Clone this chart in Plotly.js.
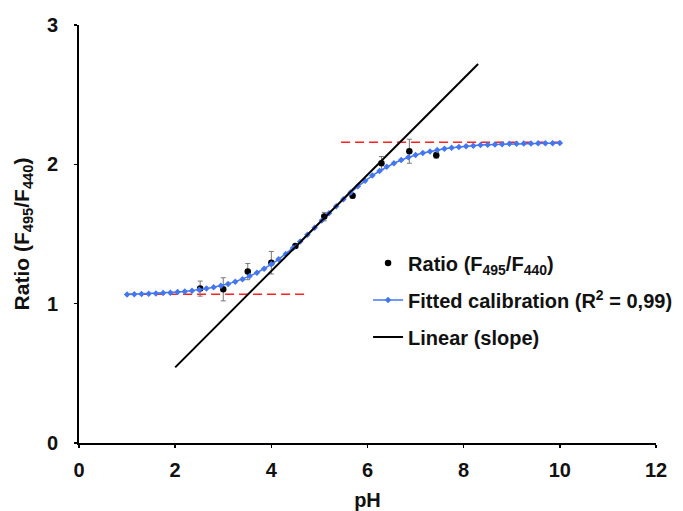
<!DOCTYPE html>
<html>
<head>
<meta charset="utf-8">
<script src="https://cdn.plot.ly/plotly-3.0.1.min.js"></script>
<style>html,body{margin:0;padding:0;background:#fff;}#chart{width:683px;height:511px;}</style>
</head>
<body>
<div id="chart"></div>
<script>
// Measured points
const phData = [2.52, 3.0, 3.51, 4.0, 4.5, 5.1, 5.69, 6.29, 6.87, 7.43];
const ratioData = [1.108, 1.103, 1.230, 1.294, 1.414, 1.625, 1.775, 2.008, 2.094, 2.065];
const ratioErr = [0.054, 0.083, 0.058, 0.081, 0.012, 0.030, 0.016, 0.048, 0.086, 0.020];

// Fitted calibration curve
const phFit = [1.00,1.15,1.30,1.45,1.60,1.75,1.90,2.05,2.20,2.35,2.50,2.65,2.80,2.95,3.10,3.25,3.40,3.55,3.70,3.85,
  4.00,4.15,4.30,4.45,4.60,4.75,4.90,5.05,5.20,5.35,5.50,5.65,5.80,5.95,6.10,6.25,6.40,6.55,6.70,6.85,
  7.00,7.15,7.30,7.45,7.60,7.75,7.90,8.05,8.20,8.35,8.50,8.65,8.80,8.95,9.10,9.25,9.40,9.55,9.70,9.85,10.00];
const ratioFit = [1.066,1.068,1.069,1.071,1.073,1.076,1.079,1.083,1.088,1.093,1.100,1.108,1.118,1.129,1.142,1.158,1.176,1.198,1.222,1.250,
  1.282,1.318,1.357,1.400,1.446,1.495,1.545,1.597,1.649,1.700,1.750,1.797,1.842,1.882,1.919,1.952,1.982,2.008,2.031,2.050,
  2.067,2.081,2.093,2.103,2.112,2.119,2.125,2.130,2.134,2.138,2.141,2.143,2.145,2.147,2.148,2.150,2.150,2.151,2.152,2.152,2.153];

// Linear (slope) line
const phLin = [2.0, 8.3];
const ratioLin = [0.543, 2.72];

// Plateau reference lines
const phLow = [1.0, 4.73];
const ratioLow = [1.067, 1.067];
const phHigh = [5.45, 10.0];
const ratioHigh = [2.158, 2.158];

const fam = 'Liberation Sans, Arial, sans-serif';
const font = {family: fam, size: 20, color: '#111'};

const traces = [
  {x: phLow, y: ratioLow, mode: 'lines', line: {color: '#ff2020', width: 1.5, dash: '9px,5px'}, showlegend: false, hoverinfo: 'skip'},
  {x: phHigh, y: ratioHigh, mode: 'lines', line: {color: '#ff2020', width: 1.5, dash: '9px,5px'}, showlegend: false, hoverinfo: 'skip'},
  {x: phData, y: ratioData, mode: 'markers', name: '<b>Ratio (F<sub>495</sub>/F<sub>440</sub>)</b>', legendgroup: 'a',
   marker: {color: '#000', size: 6.5},
   error_y: {type: 'data', array: ratioErr, visible: true, color: '#777', thickness: 1, width: 2.5}},
  {x: phFit, y: ratioFit, mode: 'lines+markers', name: '<b>Fitted calibration (R<sup>2</sup> = 0,99)</b>', legendgroup: 'b',
   line: {color: '#4377f2', width: 1.5}, marker: {symbol: 'diamond', size: 5, color: '#4377f2'}},
  {x: phLin, y: ratioLin, mode: 'lines', name: '<b>Linear (slope)</b>', legendgroup: 'c',
   line: {color: '#000', width: 2}}
];

const layout = {
  width: 683, height: 511,
  margin: {l: 79, r: 27, t: 25, b: 68, autoexpand: false},
  paper_bgcolor: '#fff', plot_bgcolor: '#fff',
  font: font,
  showlegend: true,
  legend: {x: 0.501, y: 0.477, xanchor: 'left', yanchor: 'top', bgcolor: 'rgba(0,0,0,0)',
    font: {family: fam, size: 20, color: '#111'},
    traceorder: 'grouped', tracegroupgap: 8},
  xaxis: {
    range: [0, 12], tickvals: [0, 2, 4, 6, 8, 10, 12], ticktext: ['<b>0</b>','<b>2</b>','<b>4</b>','<b>6</b>','<b>8</b>','<b>10</b>','<b>12</b>'],
    showline: true, linecolor: '#000', linewidth: 2, ticks: 'outside', ticklen: 3, tickwidth: 1.5, tickcolor: '#000',
    showgrid: false, zeroline: false, ticklabelstandoff: 5, automargin: false,
    title: {text: '<b>pH</b>', font: font, standoff: 14}
  },
  yaxis: {
    range: [0, 3], tickvals: [0, 1, 2, 3], ticktext: ['<b>0</b>','<b>1</b>','<b>2</b>','<b>3</b>'],
    showline: true, linecolor: '#000', linewidth: 2, ticks: 'outside', ticklen: 3, tickwidth: 1.5, tickcolor: '#000',
    showgrid: false, zeroline: false, ticklabelstandoff: 12, automargin: false,
    title: {text: '<b>Ratio (F<sub>495</sub>/F<sub>440</sub>)</b>', font: {family: fam, size: 21, color: '#111'}, standoff: 12}
  }
};

Plotly.newPlot('chart', traces, layout, {displayModeBar: false, staticPlot: true});
</script>
</body>
</html>
